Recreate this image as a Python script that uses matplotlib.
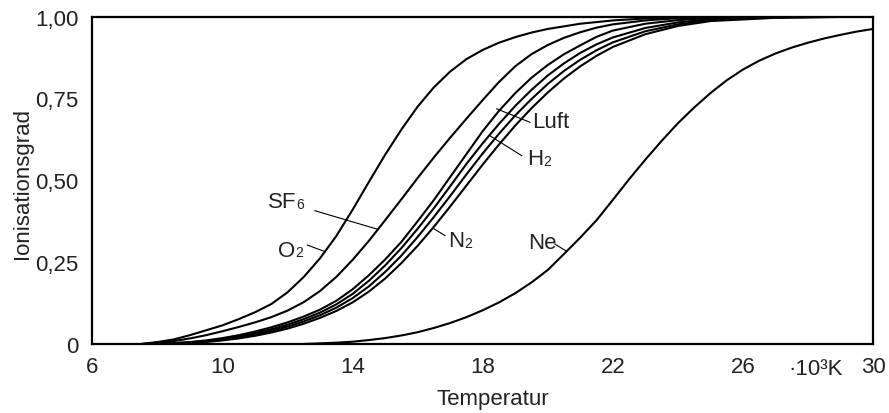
import matplotlib
matplotlib.use("Agg")
import matplotlib.pyplot as plt

plt.rcParams["font.family"] = ["Liberation Sans", "DejaVu Sans"]

# Ionisationsgrad über Temperatur (·10^3 K)
o2_x = [7.5, 8.0, 8.5, 9.0, 9.5, 10.0, 10.5, 11.0, 11.5, 12.0, 12.5, 13.0, 13.5,
        14.0, 14.5, 15.0, 15.5, 16.0, 16.5, 17.0, 17.5, 18.0, 18.5, 19.0, 19.5,
        20.0, 21.0, 22.0, 23.0, 24.0, 26.0, 30.0]
o2_y = [0.0, 0.006, 0.014, 0.027, 0.042, 0.057, 0.076, 0.097, 0.122, 0.158, 0.205,
        0.262, 0.33, 0.41, 0.495, 0.578, 0.655, 0.725, 0.784, 0.832, 0.87, 0.898,
        0.92, 0.937, 0.951, 0.962, 0.978, 0.988, 0.994, 0.997, 0.999, 1.0]

sf6_x = [7.5, 8.0, 8.5, 9.0, 9.5, 10.0, 10.5, 11.0, 11.5, 12.0, 12.5, 13.0, 13.5,
         14.0, 14.5, 15.0, 15.5, 16.0, 16.5, 17.0, 17.5, 18.0, 18.5, 19.0, 19.5,
         20.0, 20.5, 21.0, 21.5, 22.0, 23.0, 24.0, 26.0, 30.0]
sf6_y = [0.0, 0.004, 0.009, 0.017, 0.027, 0.039, 0.052, 0.066, 0.082, 0.102, 0.128,
         0.162, 0.205, 0.257, 0.315, 0.378, 0.442, 0.507, 0.57, 0.63, 0.688, 0.745,
         0.8, 0.848, 0.885, 0.913, 0.935, 0.952, 0.966, 0.976, 0.988, 0.995, 0.999, 1.0]

# vier dicht beieinander liegende Kurven (Luft, H2, ..., N2)
g1_x = [7.8, 8.5, 9.0, 9.5, 10.0, 10.5, 11.0, 11.5, 12.0, 12.5, 13.0, 13.5, 14.0,
        14.5, 15.0, 15.5, 16.0, 16.5, 17.0, 17.5, 18.0, 18.5, 19.0, 19.5, 20.0,
        20.5, 21.0, 21.5, 22.0, 23.0, 24.0, 25.0, 27.0, 30.0]
g1_y = [0.0, 0.003, 0.006, 0.011, 0.018, 0.027, 0.038, 0.051, 0.066, 0.084, 0.105,
        0.132, 0.167, 0.21, 0.258, 0.312, 0.375, 0.44, 0.51, 0.58, 0.65, 0.712,
        0.766, 0.813, 0.852, 0.885, 0.912, 0.938, 0.957, 0.978, 0.989, 0.995,
        0.999, 1.0]

g2_x = [8.0, 8.5, 9.0, 9.5, 10.0, 10.5, 11.0, 11.5, 12.0, 12.5, 13.0, 13.5, 14.0,
        14.5, 15.0, 15.5, 16.0, 16.5, 17.0, 17.5, 18.0, 18.5, 19.0, 19.5, 20.0,
        20.5, 21.0, 21.5, 22.0, 23.0, 24.0, 25.0, 27.0, 30.0]
g2_y = [0.0, 0.002, 0.005, 0.009, 0.015, 0.023, 0.033, 0.045, 0.059, 0.076, 0.096,
        0.121, 0.153, 0.193, 0.24, 0.293, 0.352, 0.415, 0.482, 0.55, 0.613, 0.672,
        0.727, 0.776, 0.82, 0.857, 0.889, 0.915, 0.936, 0.965, 0.982, 0.992,
        0.998, 1.0]

g3_x = [8.0, 8.5, 9.0, 9.5, 10.0, 10.5, 11.0, 11.5, 12.0, 12.5, 13.0, 13.5, 14.0,
        14.5, 15.0, 15.5, 16.0, 16.5, 17.0, 17.5, 18.0, 18.5, 19.0, 19.5, 20.0,
        20.5, 21.0, 21.5, 22.0, 23.0, 24.0, 25.0, 27.0, 30.0]
g3_y = [0.0, 0.002, 0.004, 0.008, 0.013, 0.02, 0.029, 0.04, 0.053, 0.069, 0.088,
        0.111, 0.14, 0.176, 0.22, 0.27, 0.327, 0.388, 0.452, 0.518, 0.582, 0.642,
        0.698, 0.748, 0.794, 0.834, 0.868, 0.897, 0.921, 0.955, 0.976, 0.989,
        0.997, 1.0]

g4_x = [8.2, 9.0, 9.5, 10.0, 10.5, 11.0, 11.5, 12.0, 12.5, 13.0, 13.5, 14.0, 14.5,
        15.0, 15.5, 16.0, 16.5, 17.0, 17.5, 18.0, 18.5, 19.0, 19.5, 20.0, 20.5,
        21.0, 21.5, 22.0, 23.0, 24.0, 25.0, 27.0, 30.0]
g4_y = [0.0, 0.003, 0.006, 0.011, 0.017, 0.025, 0.035, 0.047, 0.062, 0.08, 0.101,
        0.127, 0.16, 0.2, 0.247, 0.3, 0.358, 0.42, 0.484, 0.548, 0.609, 0.667,
        0.72, 0.768, 0.811, 0.848, 0.88, 0.907, 0.946, 0.971, 0.986, 0.996, 1.0]

ne_x = [12.5, 13.0, 13.5, 14.0, 14.5, 15.0, 15.5, 16.0, 16.5, 17.0, 17.5, 18.0,
        18.5, 19.0, 19.5, 20.0, 20.5, 21.0, 21.5, 22.0, 22.5, 23.0, 23.5, 24.0,
        24.5, 25.0, 25.5, 26.0, 26.5, 27.0, 27.5, 28.0, 28.5, 29.0, 29.5, 30.0]
ne_y = [0.0, 0.002, 0.004, 0.007, 0.012, 0.018, 0.026, 0.036, 0.049, 0.064, 0.082,
        0.103, 0.127, 0.155, 0.188, 0.226, 0.275, 0.325, 0.378, 0.44, 0.503, 0.563,
        0.62, 0.674, 0.722, 0.766, 0.805, 0.838, 0.865, 0.887, 0.905, 0.92, 0.933,
        0.944, 0.954, 0.962]

x_ticks = [6, 10, 14, 18, 22, 26, 30]
y_ticks = [0, 0.25, 0.5, 0.75, 1.0]
y_tick_labels = ["0", "0,25", "0,50", "0,75", "1,00"]

# Beschriftung: (Haupttext, Index, Textposition, Anfang und Ende der Hinweislinie)
labels = [
    ("SF", "6", (11.40, 0.434), (12.84, 0.407), (14.78, 0.350)),
    ("O", "2", (11.70, 0.285), (12.61, 0.302), (13.15, 0.282)),
    ("Luft", "", (19.51, 0.678), (18.43, 0.718), (19.45, 0.677)),
    ("H", "2", (19.38, 0.565), (18.22, 0.636), (19.20, 0.575)),
    ("N", "2", (16.94, 0.315), (16.48, 0.353), (16.84, 0.331)),
    ("Ne", "", (19.39, 0.311), (20.22, 0.305), (20.58, 0.283)),
]

fig = plt.figure(figsize=(8.89, 4.14), dpi=100)
ax = fig.add_axes([0.104, 0.1667, 0.878, 0.791])

for xs, ys in [(o2_x, o2_y), (sf6_x, sf6_y), (g1_x, g1_y), (g2_x, g2_y),
               (g3_x, g3_y), (g4_x, g4_y), (ne_x, ne_y)]:
    ax.plot(xs, ys, color="black", linewidth=1.5, solid_capstyle="round",
            solid_joinstyle="round")

fs = 16
for main, sub, txt_xy, p0, p1 in labels:
    ax.plot([p0[0], p1[0]], [p0[1], p1[1]], color="black", linewidth=0.8)
    t = ax.text(txt_xy[0], txt_xy[1], main, fontsize=fs, va="center", ha="left",
                color="#222222")
    if sub:
        ax.annotate(sub, xy=(1.0, 0.08), xycoords=t, fontsize=10, va="bottom",
                    ha="left", color="#222222")

ax.set_xlim(6, 30)
ax.set_ylim(0, 1)
ax.set_xticks(x_ticks)
ax.set_xticklabels([str(v) for v in x_ticks])
ax.set_yticks(y_ticks)
ax.set_yticklabels(y_tick_labels)
ax.tick_params(length=0, labelsize=fs, colors="#222222", pad=9)
ax.tick_params(axis="y", pad=10)
for sp in ax.spines.values():
    sp.set_linewidth(1.6)
    sp.set_color("black")

ax.text(28.25, -0.0916, "·10³K", fontsize=fs, ha="center", va="baseline",
        transform=ax.get_xaxis_transform(), color="#222222")

ax.set_xlabel("Temperatur", fontsize=fs, color="#222222", va="top")
ax.xaxis.set_label_coords(0.513, -0.135)
ax.set_ylabel("Ionisationsgrad", fontsize=fs, color="#222222")
ax.yaxis.set_label_coords(-0.076, 0.493)

fig.savefig("out.png", dpi=100)
